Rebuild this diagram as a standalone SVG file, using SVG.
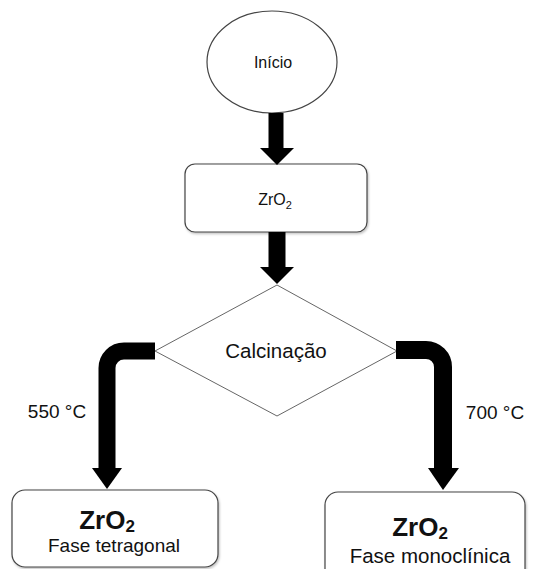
<svg xmlns="http://www.w3.org/2000/svg" width="533" height="569" viewBox="0 0 533 569">
<style>
.node{fill:#fff;stroke:#444;stroke-width:1.2}
.dia{fill:#fff;stroke:#666;stroke-width:1}
.t{font-family:"Liberation Sans",Arial,sans-serif;fill:#111;text-anchor:middle}
.shaft{fill:none;stroke:#000}
.head{fill:#000}
</style>
<defs>
<filter id="sh" x="-10%" y="-10%" width="130%" height="130%">
<feDropShadow dx="1" dy="1.5" stdDeviation="1" flood-color="#000" flood-opacity="0.25"/>
</filter>
</defs>
<rect width="533" height="569" fill="#fff"/>
<g id="inicio">
<ellipse class="node" cx="272" cy="62" rx="65" ry="51"/>
<text class="t" x="273" y="68" font-size="16">Início</text>
</g>
<g id="zro2">
<rect class="node" x="185" y="164" width="182" height="68" rx="10" filter="url(#sh)"/>
<text class="t" x="275" y="205" font-size="16">ZrO<tspan font-size="11" dy="4">2</tspan></text>
</g>
<g id="calcinacao">
<polygon class="dia" points="277,285 397,351 277,416 155,351"/>
<text class="t" x="276" y="358" font-size="20.5">Calcinação</text>
</g>
<g id="tetragonal">
<rect class="node" x="12" y="490" width="206" height="77" rx="13" filter="url(#sh)"/>
<text class="t" x="107" y="529" font-size="26" font-weight="bold">ZrO<tspan font-size="17" dy="3">2</tspan></text>
<text class="t" x="114" y="552" font-size="19">Fase tetragonal</text>
</g>
<g id="monoclinica">
<rect class="node" x="325" y="492" width="200" height="90" rx="13" filter="url(#sh)"/>
<text class="t" x="420" y="536" font-size="26" font-weight="bold">ZrO<tspan font-size="17" dy="3">2</tspan></text>
<text class="t" x="430" y="563" font-size="20.5">Fase monoclínica</text>
</g>
<g id="connectors">
<path class="shaft" stroke-width="15" d="M276,113 V149"/>
<polygon class="head" points="260,148 294,148 277,165"/>
<path class="shaft" stroke-width="17" d="M277,232 V268"/>
<polygon class="head" points="260,267 294,267 277,284"/>
<path class="shaft" stroke-width="17" d="M155,351 H124 A17 17 0 0 0 107 368 V469"/>
<polygon class="head" points="92,468 122,468 107,489"/>
<path class="shaft" stroke-width="18" d="M396,350 H426 A17 17 0 0 1 443 367 V469"/>
<polygon class="head" points="428,468 459,468 443,490"/>
<text class="t" x="57" y="418" font-size="19">550 °C</text>
<text class="t" x="495" y="419" font-size="19">700 °C</text>
</g>
</svg>
